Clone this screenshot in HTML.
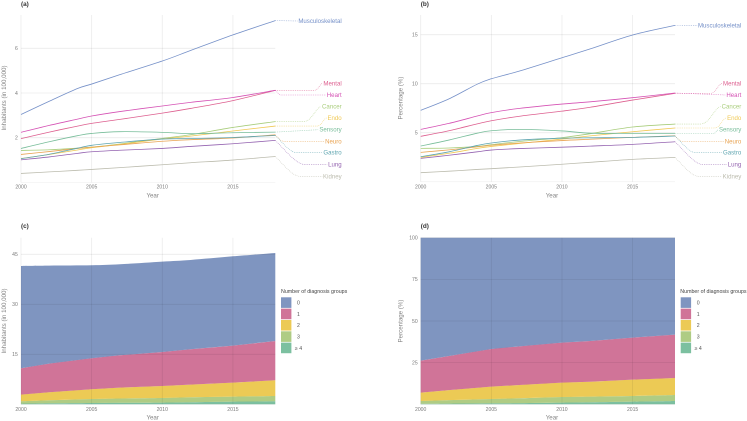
<!DOCTYPE html>
<html lang="en">
<head>
<meta charset="utf-8">
<title>Diagnosis groups over time</title>
<style>
html,body{margin:0;padding:0;background:#fff;}
svg{display:block;font-family:"Liberation Sans",sans-serif;filter:blur(0.3px);}
.tick{font-size:5.1px;fill:#7a7a7a;}
.title{font-size:6.2px;fill:#858585;}
.tag{font-size:6.4px;fill:#333;font-weight:bold;}
.leg-title{font-size:5.3px;fill:#444;}
.leg-text{font-size:5.2px;fill:#555;}
.series-label{font-size:6.1px;}
</style>
</head>
<body>
<svg id="chart" width="747" height="421" viewBox="0 0 747 421" xmlns="http://www.w3.org/2000/svg">
  <rect x="0" y="0" width="747" height="421" fill="#fff"/>
  <g id="panel-a"></g>
  <g id="panel-b"></g>
  <g id="panel-c"></g>
  <g id="panel-d"></g>

  <text class="tag" x="21" y="6">(a)</text>
  <text class="tag" x="420.7" y="6">(b)</text>
  <text class="tag" x="21" y="228">(c)</text>
  <text class="tag" x="420.7" y="228">(d)</text>

  <text class="title" x="152.7" y="197.5" text-anchor="middle">Year</text>
  <text class="title" x="552" y="197.5" text-anchor="middle">Year</text>
  <text class="title" x="152.7" y="419.5" text-anchor="middle">Year</text>
  <text class="title" x="552" y="419.5" text-anchor="middle">Year</text>

  <text class="title" text-anchor="middle" transform="translate(6,98) rotate(-90)">Inhabitants (in 100,000)</text>
  <text class="title" text-anchor="middle" transform="translate(402.7,98) rotate(-90)">Percentage (%)</text>
  <text class="title" text-anchor="middle" transform="translate(6,321) rotate(-90)">Inhabitants (in 100,000)</text>
  <text class="title" text-anchor="middle" transform="translate(402.7,321) rotate(-90)">Percentage (%)</text>

  <text class="leg-title" x="281" y="292.8">Number of diagnosis groups</text>
  <text class="leg-title" x="680.3" y="292.8">Number of diagnosis groups</text>
</svg>
<script>
// ---- shared categories and tick labels ----
const xTicks = [2000, 2005, 2010, 2015];
const lineYears = [2000, 2002, 2004, 2005, 2007, 2010, 2012, 2015, 2018];
const areaYears = [2000, 2002, 2005, 2007, 2010, 2012, 2015, 2018];
const yTicksA = [2, 4, 6];
const yTicksB = [5, 10, 15];
const yTicksC = [15, 30, 45];
const yTicksD = [25, 50, 75, 100];

// ---- panel (a): inhabitants in 100,000 ----
const aMusculoskeletal = [3.04, 3.63, 4.20, 4.40, 4.82, 5.43, 5.90, 6.60, 7.24];
const aMental = [1.96, 2.25, 2.52, 2.64, 2.82, 3.10, 3.31, 3.66, 4.12];
const aHeart = [2.24, 2.55, 2.83, 2.97, 3.17, 3.42, 3.58, 3.80, 4.12];
const aCancer = [1.43, 1.46, 1.53, 1.58, 1.72, 1.97, 2.13, 2.46, 2.72];
const aEndo = [1.07, 1.25, 1.45, 1.55, 1.70, 1.94, 2.07, 2.30, 2.52];
const aSensory = [1.52, 1.82, 2.09, 2.19, 2.27, 2.24, 2.18, 2.22, 2.25];
const aNeuro = [1.25, 1.38, 1.52, 1.58, 1.68, 1.84, 1.91, 1.99, 2.13];
const aGastro = [1.06, 1.26, 1.53, 1.66, 1.79, 1.94, 1.96, 2.01, 2.10];
const aLung = [1.01, 1.14, 1.30, 1.37, 1.44, 1.52, 1.61, 1.73, 1.88];
const aKidney = [0.40, 0.47, 0.54, 0.58, 0.66, 0.79, 0.88, 1.00, 1.16];

// ---- panel (b): percentage ----
const bMusculoskeletal = [7.28, 8.45, 9.95, 10.50, 11.30, 12.65, 13.55, 14.97, 15.95];
const bMental = [4.63, 5.20, 5.90, 6.22, 6.68, 7.20, 7.60, 8.33, 9.01];
const bHeart = [5.34, 5.95, 6.70, 7.05, 7.48, 7.92, 8.15, 8.57, 9.05];
const bCancer = [3.40, 3.44, 3.60, 3.78, 4.10, 4.50, 4.90, 5.58, 5.88];
const bEndo = [2.48, 2.90, 3.40, 3.60, 3.90, 4.35, 4.68, 5.10, 5.48];
const bSensory = [3.64, 4.25, 4.95, 5.20, 5.34, 5.18, 4.95, 4.93, 4.93];
const bNeuro = [2.99, 3.25, 3.55, 3.72, 3.95, 4.20, 4.33, 4.52, 4.69];
const bGastro = [2.55, 3.05, 3.70, 3.95, 4.25, 4.44, 4.48, 4.52, 4.66];
const bLung = [2.38, 2.70, 3.05, 3.23, 3.38, 3.52, 3.63, 3.81, 4.08];
const bKidney = [0.92, 1.07, 1.25, 1.33, 1.50, 1.78, 1.98, 2.28, 2.48];

// ---- panel (c): stacked inhabitants per diagnosis-group count ----
const cGroup0 = [30.7, 29.4, 27.9, 27.3, 27.1, 26.8, 26.8, 26.4];
const cGroup1 = [7.9, 8.6, 9.3, 9.7, 10.2, 10.6, 11.1, 11.8];
const cGroup2 = [2.0, 2.4, 2.9, 3.25, 3.6, 3.8, 4.2, 4.7];
const cGroup3 = [0.7, 0.9, 1.2, 1.3, 1.4, 1.5, 1.5, 1.6];
const cGroup4 = [0.2, 0.3, 0.4, 0.45, 0.5, 0.6, 0.8, 0.9];

// ---- panel (d): stacked percentage per diagnosis-group count ----
const dGroup0 = [73.8, 71.0, 66.8, 65.2, 63.0, 62.0, 60.0, 58.2];
const dGroup1 = [19.2, 20.5, 22.6, 23.2, 24.0, 24.5, 25.2, 26.0];
const dGroup2 = [5.0, 6.0, 7.4, 8.0, 8.6, 8.9, 9.8, 10.2];
const dGroup3 = [1.7, 2.1, 2.6, 2.9, 3.4, 3.4, 3.4, 3.6];
const dGroup4 = [0.3, 0.4, 0.6, 0.7, 1.0, 1.2, 1.6, 2.0];

const seriesNames = ['Musculoskeletal', 'Mental', 'Heart', 'Cancer', 'Endo', 'Sensory', 'Neuro', 'Gastro', 'Lung', 'Kidney'];
const seriesColors = ['#7590c8', '#dd5f8f', '#d552b4', '#a9cd7c', '#f0c955', '#78bd9a', '#e8a352', '#5fa5b0', '#9463b0', '#bcbcae'];
const labelRows = [null, 83.3, 95, 106.7, 118, 129.7, 141.3, 152.7, 164.7, 176.3];
const groupNames = ['0', '1', '2', '3', '≥ 4'];
const groupColors = ['#6883b5', '#c85c86', '#e9c137', '#a1c36f', '#65b58f'];

const NS = 'http://www.w3.org/2000/svg';
const gridStroke = 'rgba(0,0,0,0.08)';
function el(parent, tag, attrs, text) {
  const node = document.createElementNS(NS, tag);
  for (const k in attrs) node.setAttribute(k, attrs[k]);
  if (text !== undefined) node.textContent = text;
  parent.appendChild(node);
  return node;
}
function scale(d0, d1, r0, r1) {
  return function (v) { return r0 + (v - d0) * (r1 - r0) / (d1 - d0); };
}
function slug(s) {
  return String(s).toLowerCase().replace('≥ ', 'ge-');
}

function frame(g, x, y, yTicks, left, right, top, bottom, tickRight, xTickY, id) {
  yTicks.forEach(function (t) {
    const line = el(g, 'line', {x1: left, x2: right, y1: y(t), y2: y(t), stroke: gridStroke, 'stroke-width': 0.8});
    
    
    const label = el(g, 'text', {class: 'tick', x: tickRight, y: y(t) + 1.8, 'text-anchor': 'end'}, t);
    
    
  });
  const zeroLine = el(g, 'line', {x1: left, x2: right, y1: bottom, y2: bottom, stroke: 'rgba(0,0,0,0.05)', 'stroke-width': 0.8});
  
  
  xTicks.forEach(function (t) {
    const line = el(g, 'line', {x1: x(t), x2: x(t), y1: top, y2: bottom, stroke: gridStroke, 'stroke-width': 0.8});
    
    
    const label = el(g, 'text', {class: 'tick', x: x(t), y: xTickY, 'text-anchor': 'middle'}, t);
    
    
  });
}

function smoothPath(pts) {
  let d = 'M' + pts[0][0].toFixed(2) + ' ' + pts[0][1].toFixed(2);
  for (let i = 0; i < pts.length - 1; i++) {
    const p0 = pts[Math.max(0, i - 1)], p1 = pts[i], p2 = pts[i + 1], p3 = pts[Math.min(pts.length - 1, i + 2)];
    const c1x = p1[0] + (p2[0] - p0[0]) / 6, c1y = p1[1] + (p2[1] - p0[1]) / 6;
    const c2x = p2[0] - (p3[0] - p1[0]) / 6, c2y = p2[1] - (p3[1] - p1[1]) / 6;
    d += 'C' + c1x.toFixed(2) + ' ' + c1y.toFixed(2) + ' ' + c2x.toFixed(2) + ' ' + c2y.toFixed(2) + ' ' + p2[0].toFixed(2) + ' ' + p2[1].toFixed(2);
  }
  return d;
}

function linePanel(id, allSeries, x, y, yTicks, left, right, labelRight, firstRow, tickRight) {
  const g = document.getElementById(id);
  frame(g, x, y, yTicks, left, right, 15, y(0), tickRight, 188.5, id);
  const endYear = lineYears[lineYears.length - 1];
  allSeries.forEach(function (values, i) {
    const pts = values.map(function (v, j) { return [x(lineYears[j]), y(v)]; });
    const path = el(g, 'path', {d: smoothPath(pts), fill: 'none', stroke: seriesColors[i], 'stroke-width': 0.8});
    
    
    const ly = i === 0 ? firstRow : labelRows[i];
    const label = el(g, 'text', {class: 'series-label', x: labelRight, y: ly + 2, 'text-anchor': 'end', fill: seriesColors[i]}, seriesNames[i]);
    
    
    const x0 = x(endYear), y0 = y(values[values.length - 1]);
    const x1 = labelRight - label.getComputedTextLength() - 0.8;
    const dy = ly - y0;
    let d;
    if (dy < -2.5) {
      const k = Math.min(Math.abs(dy) * 1.2, x1 - x0);
      const xs = x1 - k;
      d = 'M' + x0 + ' ' + y0 + 'H' + xs + 'C' + (xs + k * 0.5) + ' ' + y0 + ' ' + (xs + k * 0.7) + ' ' + ly + ' ' + x1 + ' ' + ly;
    } else if (dy > 2.5) {
      const k = dy * 1.25;
      d = 'M' + x0 + ' ' + y0 + 'C' + (x0 + k * 0.4) + ' ' + (y0 + dy * 0.5) + ' ' + (x0 + k * 0.7) + ' ' + ly + ' ' + (x0 + k) + ' ' + ly + 'H' + x1;
    } else {
      d = 'M' + x0 + ' ' + y0 + 'L' + x1 + ' ' + ly;
    }
    const link = el(g, 'path', {d: d, fill: 'none', stroke: seriesColors[i], 'stroke-width': 0.6, 'stroke-dasharray': '0.8 1', opacity: 0.85});
    
    
  });
}

function areaPanel(id, groups, x, y, yTicks, left, right, top, tickRight, legendX) {
  const g = document.getElementById(id);
  // stack from the bottom (last group) upward
  let base = areaYears.map(function () { return 0; });
  for (let i = groups.length - 1; i >= 0; i--) {
    const tops = base.map(function (b, j) { return b + groups[i][j]; });
    const upper = tops.map(function (v, j) { return [x(areaYears[j]), y(v)]; });
    const lower = base.map(function (v, j) { return [x(areaYears[j]), y(v)]; }).reverse();
    const d = smoothPath(upper) + 'L' + lower.map(function (p) { return p[0].toFixed(2) + ' ' + p[1].toFixed(2); }).join('L') + 'Z';
    const area = el(g, 'path', {d: d, fill: groupColors[i], 'fill-opacity': 0.85});
    
    
    base = tops;
  }
  frame(g, x, y, yTicks, left, right, top, y(0), tickRight, 410.8, id);
  groupNames.forEach(function (name, i) {
    const ky = 297.3 + i * 11.33;
    const key = el(g, 'rect', {x: legendX, y: ky, width: 10.4, height: 10.6, fill: groupColors[i], 'fill-opacity': 0.85});
    
    
    const label = el(g, 'text', {class: 'leg-text', x: legendX + 17.5, y: ky + 7.2, 'text-anchor': 'middle'}, name);
    
    
  });
}

const xA = scale(2000, 2018, 21, 275.3);
const xB = scale(2000, 2018, 420.7, 675);

linePanel('panel-a',
  [aMusculoskeletal, aMental, aHeart, aCancer, aEndo, aSensory, aNeuro, aGastro, aLung, aKidney],
  xA, scale(0, 6, 182.4, 48.3), yTicksA, 21, 275.3, 341.7, 21, 17.8);
linePanel('panel-b',
  [bMusculoskeletal, bMental, bHeart, bCancer, bEndo, bSensory, bNeuro, bGastro, bLung, bKidney],
  xB, scale(0, 15, 181.7, 34.7), yTicksB, 420.7, 675, 741.3, 25.3, 417.7);
areaPanel('panel-c',
  [cGroup0, cGroup1, cGroup2, cGroup3, cGroup4],
  xA, scale(0, 45, 404.3, 254.3), yTicksC, 21, 275.3, 237.7, 17.8, 281);
areaPanel('panel-d',
  [dGroup0, dGroup1, dGroup2, dGroup3, dGroup4],
  xB, scale(0, 100, 404.3, 237.7), yTicksD, 420.7, 675, 237.7, 417.7, 680.7);
</script>
</body>
</html>
